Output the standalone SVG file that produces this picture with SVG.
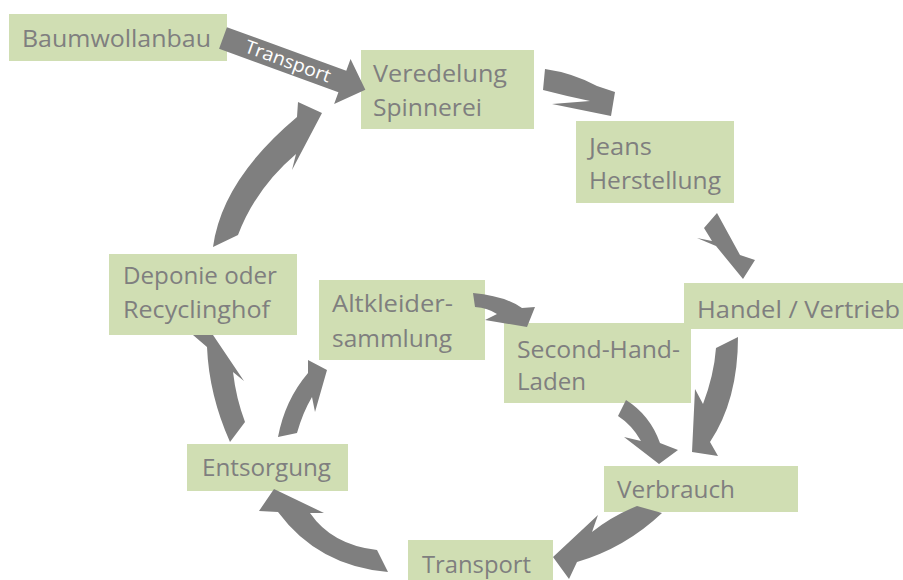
<svg xmlns="http://www.w3.org/2000/svg" width="903" height="580" viewBox="0 0 903 580">
<style>
.box{fill:#D0DEB3}
.t{font-family:"Open Sans","Liberation Sans",sans-serif;font-size:24px;fill:#7F7F7F}
.arr{fill:#7F7F7F}
.lbl{font-family:"Open Sans","Liberation Sans",sans-serif;font-size:18.5px;fill:#FFFFFF}
</style>
<rect width="903" height="580" fill="#FFFFFF"/>
<g id="n-baumwollanbau"><rect class="box" x="9" y="14" width="218" height="47"/><text class="t" x="22" y="47" textLength="189" lengthAdjust="spacingAndGlyphs">Baumwollanbau</text></g>
<g id="n-veredelung"><rect class="box" x="361" y="50" width="173" height="79"/><text class="t" x="373" y="82" textLength="134" lengthAdjust="spacingAndGlyphs">Veredelung</text><text class="t" x="373" y="116" textLength="109" lengthAdjust="spacingAndGlyphs">Spinnerei</text></g>
<g id="n-jeans"><rect class="box" x="576" y="121" width="158" height="82"/><text class="t" x="589" y="155" textLength="63" lengthAdjust="spacingAndGlyphs">Jeans</text><text class="t" x="589" y="189" textLength="132" lengthAdjust="spacingAndGlyphs">Herstellung</text></g>
<g id="n-handel"><rect class="box" x="684" y="283" width="219" height="46"/><text class="t" x="697" y="318" textLength="203" lengthAdjust="spacingAndGlyphs">Handel / Vertrieb</text></g>
<g id="n-secondhand"><rect class="box" x="504" y="323" width="187" height="80"/><text class="t" x="517" y="358" textLength="163" lengthAdjust="spacingAndGlyphs">Second-Hand-</text><text class="t" x="517" y="390" textLength="69" lengthAdjust="spacingAndGlyphs">Laden</text></g>
<g id="n-verbrauch"><rect class="box" x="604" y="466" width="194" height="46"/><text class="t" x="617" y="498" textLength="118" lengthAdjust="spacingAndGlyphs">Verbrauch</text></g>
<g id="n-transport"><rect class="box" x="408" y="540" width="145" height="40"/><text class="t" x="422" y="573" textLength="109" lengthAdjust="spacingAndGlyphs">Transport</text></g>
<g id="n-entsorgung"><rect class="box" x="187" y="444" width="161" height="47"/><text class="t" x="202" y="476" textLength="129" lengthAdjust="spacingAndGlyphs">Entsorgung</text></g>
<g id="n-deponie"><rect class="box" x="109" y="254" width="188" height="81"/><text class="t" x="123" y="284" textLength="154" lengthAdjust="spacingAndGlyphs">Deponie oder</text><text class="t" x="123" y="318" textLength="147" lengthAdjust="spacingAndGlyphs">Recyclinghof</text></g>
<g id="n-altkleider"><rect class="box" x="319" y="280" width="166" height="80"/><text class="t" x="332" y="312" textLength="121" lengthAdjust="spacingAndGlyphs">Altkleider-</text><text class="t" x="332" y="347" textLength="120" lengthAdjust="spacingAndGlyphs">sammlung</text></g>
<g id="connectors">
<g transform="translate(223,38) rotate(20)">
<polygon class="arr" points="0,-11.5 127,-11.5 127,-24 151.5,0 127,24 127,11.5 0,11.5"/>
<text class="lbl" x="69" y="6" text-anchor="middle" textLength="90" lengthAdjust="spacingAndGlyphs">Transport</text>
</g>
<path class="arr" d="M545,69 Q573,73 597,86 L615,92 L611,116 L552,104 L590,101 Q566,96 543,90 Z"/>
<path class="arr" d="M717,213 L740,255 L755,260 L743,279 L716,246 L697,238 L712,241 L704,228 Z"/>
<path class="arr" d="M716,348 L738,337 Q738,400 710,442 L718,456 L692,452 L695,389 L703,404 Q714,375 716,348 Z"/>
<path class="arr" d="M626,400 Q650,415 660,443 L678,450 L659,464 L624,437 L641,441 Q632,425 618,416 Z"/>
<path class="arr" d="M637,506 Q612,516 592,532 L598,515 L553,557 L569,579 L577,562 Q625,548 662,513 Z"/>
<path class="arr" d="M274,489 L324,513 L310,513 Q332,545 377,550 L388,572 Q318,566 278,512 L259,511 Z"/>
<path class="arr" d="M193,335 L213,335 L244,381 L233,372 Q236,398 245,422 L230,442 Q209,395 207,347 Z"/>
<path class="arr" d="M278,437 Q285,400 308,373 L308,360 L327,370 L315,412 L312,397 Q303,412 297,433 Z"/>
<path class="arr" d="M473,293 Q505,296 522,308 L535,307 L527,327 L485,320 L497,314 Q488,308 475,307 Z"/>
<path class="arr" d="M213,247 Q222,180 297,117 L298,102 L322,113 L292,170 L296,154 Q256,188 238,235 Z"/>
</g>
</svg>
